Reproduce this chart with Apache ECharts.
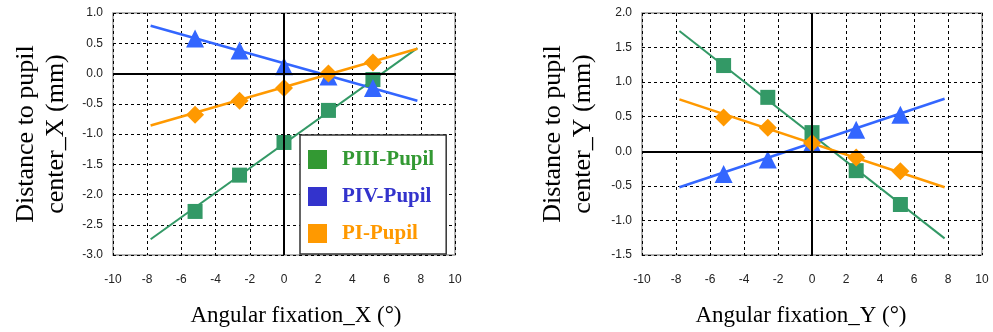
<!DOCTYPE html>
<html>
<head>
<meta charset="utf-8">
<script src="https://cdn.jsdelivr.net/npm/echarts@6/dist/echarts.min.js"></script>
<style>
html, body { margin: 0; padding: 0; background: #fff; }
#main { width: 993px; height: 332px; }
</style>
</head>
<body>
<div id="main"></div>
<script>
// fixation angles of the measured points (deg)
var fixations = [-5.2, -2.6, 0, 2.6, 5.2];
// trend lines run across this range
var trendX = [-7.8, 7.8];

// left chart: distance to pupil center_X (mm)
var piiiX = [-2.28, -1.68, -1.14, -0.61, -0.10];
var pivX = [0.58, 0.38, 0.12, -0.05, -0.24];
var piX = [-0.68, -0.45, -0.24, 0.00, 0.18];
var piiiXTrend = [-2.74, 0.42];
var pivXTrend = [0.79, -0.45];
var piXTrend = [-0.86, 0.41];

// right chart: distance to pupil center_Y (mm)
var piiiY = [1.24, 0.78, 0.27, -0.28, -0.77];
var pivY = [-0.33, -0.12, 0.12, 0.31, 0.53];
var piY = [0.49, 0.34, 0.12, -0.09, -0.29];
var piiiYTrend = [1.74, -1.26];
var pivYTrend = [-0.52, 0.76];
var piYTrend = [0.75, -0.52];

var xTicks = [-10, -8, -6, -4, -2, 0, 2, 4, 6, 8, 10];
var yTicksLeft = [-3.0, 1.0, 0.5];   // min, max, step
var yTicksRight = [-1.5, 2.0, 0.5];

var names = ['PIII-Pupil', 'PIV-Pupil', 'PI-Pupil'];
var colors = ['#339966', '#3366ff', '#ff9900'];
var legendColors = ['#339933', '#3333cc', '#ff9900'];
var symbols = ['rect', 'triangle', 'diamond'];
var symbolSizes = [15, 18, 18];

function zip(xs, ys) {
    return xs.map(function (x, i) { return [x, ys[i]]; });
}

var serifFont = '"Liberation Serif", "DejaVu Serif", serif';

function xAxisFor(grid, title, pad) {
    return {
        gridIndex: grid,
        type: 'value',
        min: xTicks[0],
        max: xTicks[xTicks.length - 1],
        interval: 2,
        name: title,
        nameLocation: 'middle',
        nameGap: 49,
        nameTextStyle: { fontFamily: serifFont, fontSize: 23, color: '#000', padding: pad },
        axisLine: { show: false },
        axisTick: { show: false },
        axisLabel: { color: '#222', fontFamily: 'Liberation Sans, Arial', fontSize: 12, margin: 19 },
        splitLine: { lineStyle: { color: '#000', type: [3, 3], width: 1 } }
    };
}

function yAxisFor(grid, ticks, title, gap) {
    return {
        gridIndex: grid,
        type: 'value',
        min: ticks[0],
        max: ticks[1],
        interval: ticks[2],
        name: title,
        nameLocation: 'middle',
        nameRotate: 90,
        nameGap: gap,
        nameTextStyle: { fontFamily: serifFont, fontSize: 26, color: '#000', lineHeight: 30 },
        axisLine: { show: false },
        axisTick: { show: false },
        axisLabel: {
            color: '#222', fontFamily: 'Liberation Sans, Arial', fontSize: 12, margin: 10,
            formatter: function (v) { return v.toFixed(1); }
        },
        splitLine: { lineStyle: { color: '#000', type: [3, 3], width: 1 } }
    };
}

function seriesFor(grid, points, trends) {
    var out = [];
    for (var i = 0; i < 3; i++) {
        out.push({
            name: names[i],
            type: 'line',
            xAxisIndex: grid,
            yAxisIndex: grid,
            data: zip(trendX, trends[i]),
            showSymbol: false,
            symbol: 'none',
            lineStyle: { color: colors[i], width: i === 0 ? 2 : 2.5 },
            itemStyle: { color: colors[i] },
            z: 3,
            animation: false
        });
        out.push({
            name: names[i],
            type: 'scatter',
            xAxisIndex: grid,
            yAxisIndex: grid,
            data: zip(fixations, points[i]),
            symbol: symbols[i],
            symbolSize: symbolSizes[i],
            itemStyle: { color: colors[i], opacity: 1 },
            z: 4,
            animation: false
        });
    }
    // zero axes drawn as solid black lines
    out[0].markLine = {
        silent: true,
        symbol: ['none', 'none'],
        label: { show: false },
        lineStyle: { color: '#000', type: 'solid', width: 2 },
        data: [{ xAxis: 0 }, { yAxis: 0 }],
        animation: false
    };
    return out;
}

var myChart = echarts.init(document.getElementById('main'));
var option = {
    backgroundColor: '#fff',
    animation: false,
    grid: [
        { left: 113, right: 538, top: 13, bottom: 76, show: true, borderColor: '#999', borderWidth: 1.5 },
        { left: 642, right: 11, top: 13, bottom: 76, show: true, borderColor: '#999', borderWidth: 1.5 }
    ],
    xAxis: [
        xAxisFor(0, 'Angular fixation_X (°)', [0, 0, 0, 24]),
        xAxisFor(1, 'Angular fixation_Y (°)', [0, 22, 0, 0])
    ],
    yAxis: [
        yAxisFor(0, yTicksLeft, 'Distance to pupil\ncenter_X (mm)', 42),
        yAxisFor(1, yTicksRight, 'Distance to pupil\ncenter_Y (mm)', 44)
    ],
    legend: {
        orient: 'vertical',
        left: 300,
        top: 135,
        width: 148,
        padding: [14, 12, 10, 8],
        backgroundColor: '#fff',
        borderColor: '#333',
        borderWidth: 1.5,
        itemWidth: 19,
        itemHeight: 19,
        itemGap: 16,
        icon: 'rect',
        textStyle: { fontFamily: serifFont, fontSize: 21, fontWeight: 'bold', padding: [0, 0, 0, 10] },
        data: names.map(function (n, i) {
            return { name: n, itemStyle: { color: legendColors[i] }, textStyle: { color: legendColors[i] } };
        })
    },
    series: seriesFor(0, [piiiX, pivX, piX], [piiiXTrend, pivXTrend, piXTrend])
        .concat(seriesFor(1, [piiiY, pivY, piY], [piiiYTrend, pivYTrend, piYTrend]))
};
myChart.setOption(option);
</script>
</body>
</html>
